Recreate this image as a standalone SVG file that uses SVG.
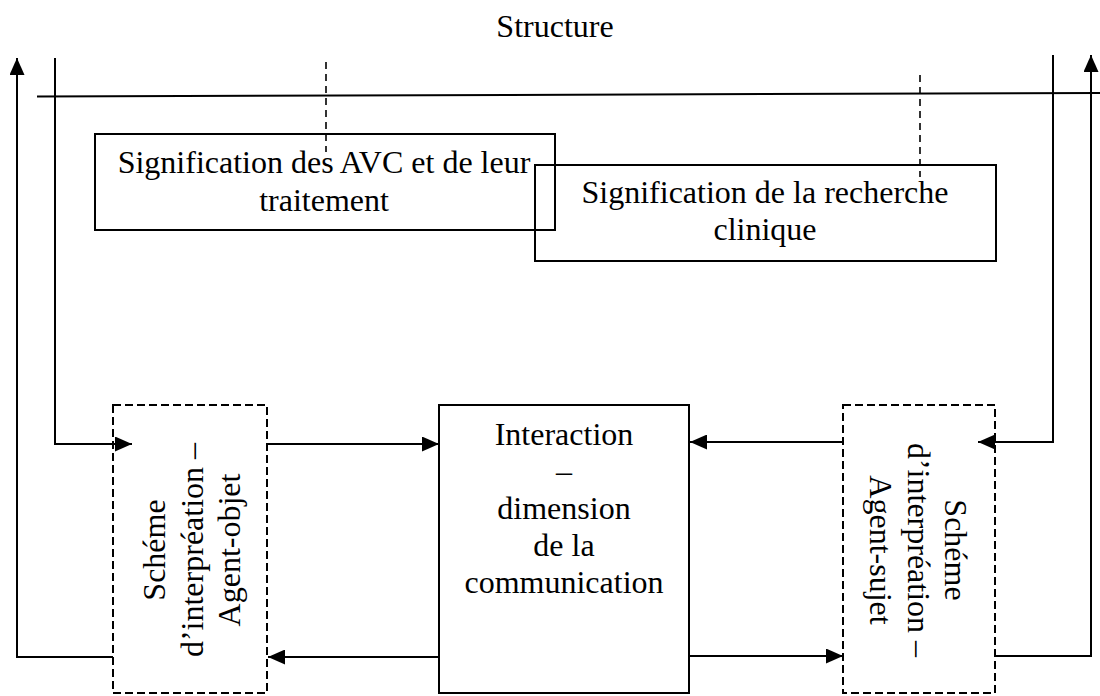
<svg xmlns="http://www.w3.org/2000/svg" width="1100" height="696" viewBox="0 0 1100 696">
  <style>
    text { font-family: "Liberation Serif", "Times New Roman", serif; font-size: 32px; fill: #000; text-anchor: middle; }
    .box { fill: none; stroke: #000; stroke-width: 2; }
    .dbox { fill: none; stroke: #000; stroke-width: 2; stroke-dasharray: 8 4; }
    .line { fill: none; stroke: #000; stroke-width: 2; }
    .dline { fill: none; stroke: #000; stroke-width: 1.6; stroke-dasharray: 7 5; }
    .arrow { fill: none; stroke: #000; stroke-width: 2; marker-end: url(#head); }
  </style>
  <defs>
    <marker id="head" markerUnits="userSpaceOnUse" markerWidth="17" markerHeight="15" refX="17" refY="7.5" orient="auto">
      <path d="M0,0 L17,7.5 L0,15 Z" fill="#000"/>
    </marker>
  </defs>

  <rect width="1100" height="696" fill="#fff"/>

  <!-- title -->
  <g id="title">
    <text x="555" y="37">Structure</text>
  </g>

  <!-- structure axis and dotted links -->
  <g id="connectors">
    <path class="line" d="M37,96.5 L1100,93"/>
    <path class="dline" d="M326,62 V152"/>
    <path class="dline" d="M920,75 V177"/>

    <!-- left feedback loops -->
    <path class="arrow" d="M55,58 V444 H132"/>
    <path class="arrow" d="M113,657 H17 V58"/>

    <!-- right feedback loops -->
    <path class="arrow" d="M1053,55 V442 H978"/>
    <path class="arrow" d="M995,656 H1091 V55"/>

    <!-- exchanges with the central box -->
    <path class="arrow" d="M267,444 H439"/>
    <path class="arrow" d="M439,657 H268"/>
    <path class="arrow" d="M843,442 H690"/>
    <path class="arrow" d="M689,656 H843"/>
  </g>

  <g id="sig-avc">
    <rect class="box" x="95" y="134" width="460" height="96"/>
    <text x="324" y="173">Signification des AVC et de leur</text>
    <text x="324" y="211">traitement</text>
  </g>

  <g id="sig-recherche">
    <rect class="box" x="535" y="165" width="461" height="96"/>
    <text x="765" y="203">Signification de la recherche</text>
    <text x="765" y="240">clinique</text>
  </g>

  <g id="agent-objet">
    <rect class="dbox" x="113" y="405" width="154" height="288"/>
    <g transform="translate(202.5,550) rotate(-90)">
      <text x="0" y="-37.5">Schéme</text>
      <text x="0" y="0">d’interpréation –</text>
      <text x="0" y="37.5">Agent-objet</text>
    </g>
  </g>

  <g id="interaction">
    <rect class="box" x="439" y="405" width="250" height="288"/>
    <text x="564" y="445">Interaction</text>
    <text x="564" y="482">–</text>
    <text x="564" y="519">dimension</text>
    <text x="564" y="556">de la</text>
    <text x="564" y="593">communication</text>
  </g>

  <g id="agent-sujet">
    <rect class="dbox" x="843" y="405" width="152" height="288"/>
    <g transform="translate(907.5,550) rotate(90)">
      <text x="0" y="-37.5">Schéme</text>
      <text x="0" y="0">d’interpréation –</text>
      <text x="0" y="37.5">Agent-sujet</text>
    </g>
  </g>
</svg>
